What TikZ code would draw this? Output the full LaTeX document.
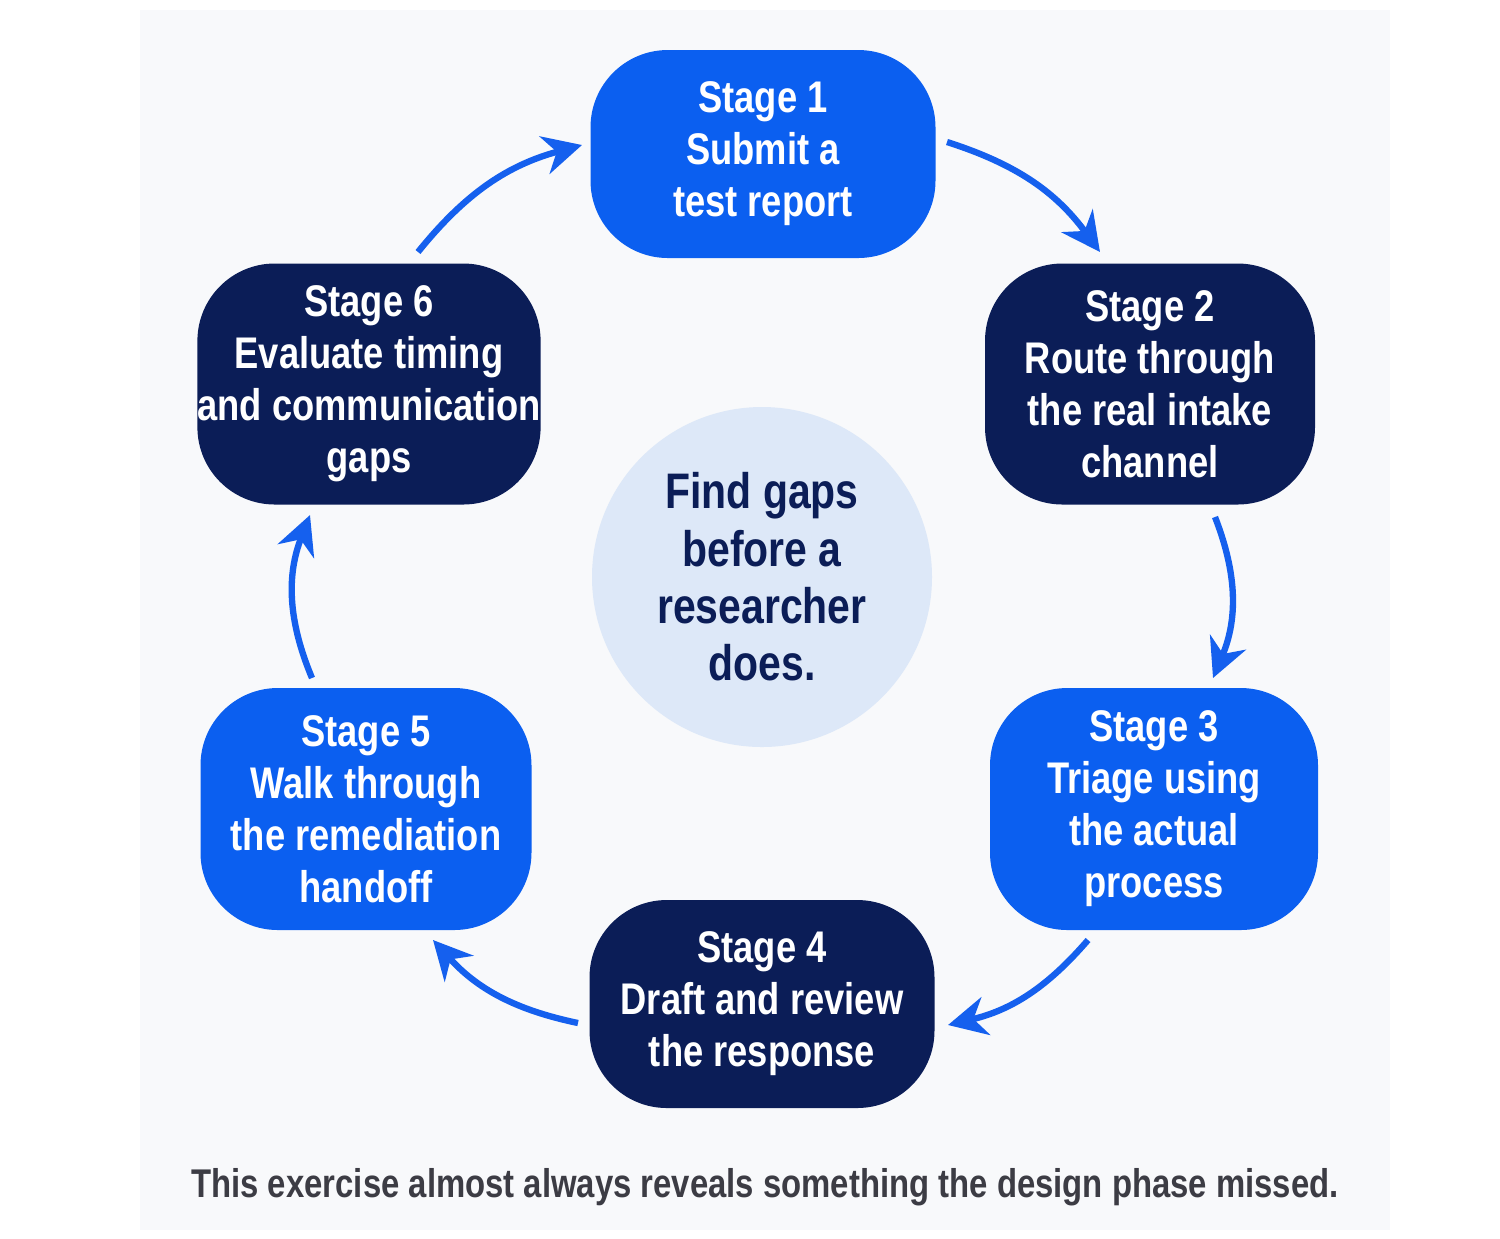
\documentclass[tikz,border=0pt]{standalone}
\usepackage{fontspec}
\setmainfont{Liberation Sans}[FakeStretch=0.82]
\usetikzlibrary{arrows.meta}
\definecolor{bblue}{HTML}{0B5FF0}
\definecolor{navy}{HTML}{0B1D57}
\definecolor{pale}{HTML}{DDE8F8}
\definecolor{bg}{HTML}{F8F9FB}
\definecolor{cap}{HTML}{3C3C44}
\definecolor{arr}{HTML}{1560EE}
\begin{document}
\begin{tikzpicture}[x=0.01cm,y=-0.01cm,
  stagebox/.style={rounded corners=22pt,text=white,font=\bfseries\fontsize{12.6}{14.8}\selectfont,align=center,inner sep=0pt},
  conn/.style={draw=arr,line width=1.8pt,-{Stealth[length=11pt,width=11pt]}}]
\path[use as bounding box,fill=white] (0,0) rectangle (1500,1238);
\fill[bg] (140,10) rectangle (1390,1230);
\node[circle,fill=pale,minimum size=340*0.01cm,text=navy,align=center,font=\bfseries\fontsize{14.2}{16.3}\selectfont] (c) at (762,577) {Find gaps\\before a\\researcher\\does.};
\node[stagebox,fill=bblue,minimum width=345*0.01cm,minimum height=208*0.01cm] (s1) at (763,154) {Stage 1\\Submit a\\test report};
\node[stagebox,fill=navy,minimum width=330*0.01cm,minimum height=241*0.01cm] (s2) at (1150,384) {Stage 2\\Route through\\the real intake\\channel};
\node[stagebox,fill=bblue,minimum width=328*0.01cm,minimum height=242*0.01cm] (s3) at (1154,809) {Stage 3\\Triage using\\the actual\\process};
\node[stagebox,fill=navy,minimum width=345*0.01cm,minimum height=208*0.01cm] (s4) at (762,1004) {Stage 4\\Draft and review\\the response};
\node[stagebox,fill=bblue,minimum width=331*0.01cm,minimum height=242*0.01cm] (s5) at (366,809) {Stage 5\\Walk through\\the remediation\\handoff};
\node[stagebox,fill=navy,minimum width=335*0.01cm,minimum height=241*0.01cm] (s6) at (369,384) {Stage 6\\Evaluate timing\\and communication\\gaps};
\node[text=cap,font=\bfseries\fontsize{11.4}{13}\selectfont] (capt) at (765,1187) {This exercise almost always reveals something the design phase missed.};
\coordinate (a1) at (947,142); \coordinate (b1) at (1100,252);
\coordinate (a2) at (1215,517); \coordinate (b2) at (1213,678);
\coordinate (a3) at (1088,940); \coordinate (b3) at (948,1025);
\coordinate (a4) at (578,1023); \coordinate (b4) at (433,940);
\coordinate (a5) at (312,678); \coordinate (b5) at (310,515);
\coordinate (a6) at (418,252); \coordinate (b6) at (582,145);
\draw[conn] (a1) to[bend left=18] (b1);
\draw[conn] (a2) to[bend left=22] (b2);
\draw[conn] (a3) to[bend left=18] (b3);
\draw[conn] (a4) to[bend left=18] (b4);
\draw[conn] (a5) to[bend left=22] (b5);
\draw[conn] (a6) to[bend left=18] (b6);
\end{tikzpicture}
\end{document}
